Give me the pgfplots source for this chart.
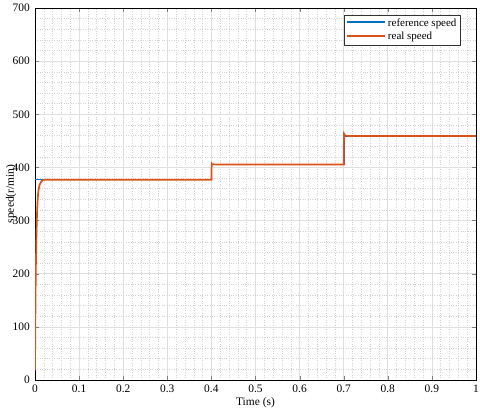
\documentclass[border=0pt]{standalone}
\usepackage{fontspec}
\setmainfont{Liberation Serif}
\usepackage{pgfplots}
\pgfplotsset{compat=1.18}
\definecolor{mblue}{rgb}{0,0.447,0.741}
\definecolor{morange}{rgb}{0.85,0.325,0.098}
\begin{document}
\fontsize{12}{14}\selectfont
\begin{tikzpicture}
\useasboundingbox (-35bp,-35bp) rectangle (445bp,380bp);
\begin{axis}[
  at={(0,0)}, anchor=south west,
  scale only axis, width=441bp, height=372bp,
  xmin=0, xmax=1, ymin=0, ymax=700,
  xtick={0,0.1,...,1.01}, ytick={0,100,...,700},
  xticklabels={0,0.1,0.2,0.3,0.4,0.5,0.6,0.7,0.8,0.9,1},
  minor x tick num=4, minor y tick num=4,
  grid=both,
  major grid style={gray!25, line width=0.7bp},
  minor grid style={gray!35, dotted, line width=0.5bp},
  tick align=inside,
  major tick length=4bp, minor tick length=0pt,
  axis line style={line width=0.9bp},
  /pgf/number format/assume math mode=true,
  tick label style={font=\fontsize{11.5}{13}\selectfont},
  yticklabel style={xshift=-1bp},
  xticklabel style={yshift=-1bp},
  xlabel={Time (s)}, ylabel={speed(r/min)},
  xlabel style={font=\fontsize{11.5}{13}\selectfont, yshift=4bp},
  ylabel style={font=\fontsize{11.5}{13}\selectfont, at={(axis description cs:0,0.5)}, anchor=center, yshift=24bp},
  legend style={at={(rel axis cs:0.964,0.981)}, anchor=north east,
    font=\fontsize{11}{13}\selectfont, draw=black!80,
    inner sep=1.5bp, row sep=0bp},
  legend cell align=left,
  legend image code/.code={\draw[#1, line width=2.2bp] (0cm,0.04cm) -- (1.35cm,0.04cm);},
]
\addplot[color=mblue, line width=1.6bp] coordinates {
(0,377) (0.4,377) (0.4,405.5) (0.7,405.5) (0.7,459) (1,459)};
\addlegendentry{reference speed}
\addplot[color=morange, line width=1.7bp] coordinates {
(0,18) (0.0005,80) (0.001,135) (0.0015,180) (0.002,215) (0.003,262) (0.004,298) (0.005,322)
(0.006,338) (0.007,350) (0.008,357) (0.010,366) (0.013,372) (0.016,375) (0.019,376.5)
(0.025,377) (0.4,377) (0.4003,395) (0.4008,407) (0.402,406) (0.41,405.5) (0.7,405.5)
(0.7003,445) (0.7008,463) (0.702,461) (0.706,459.5) (0.72,459) (1,459)};
\addlegendentry{real speed}
\end{axis}
\end{tikzpicture}
\end{document}
